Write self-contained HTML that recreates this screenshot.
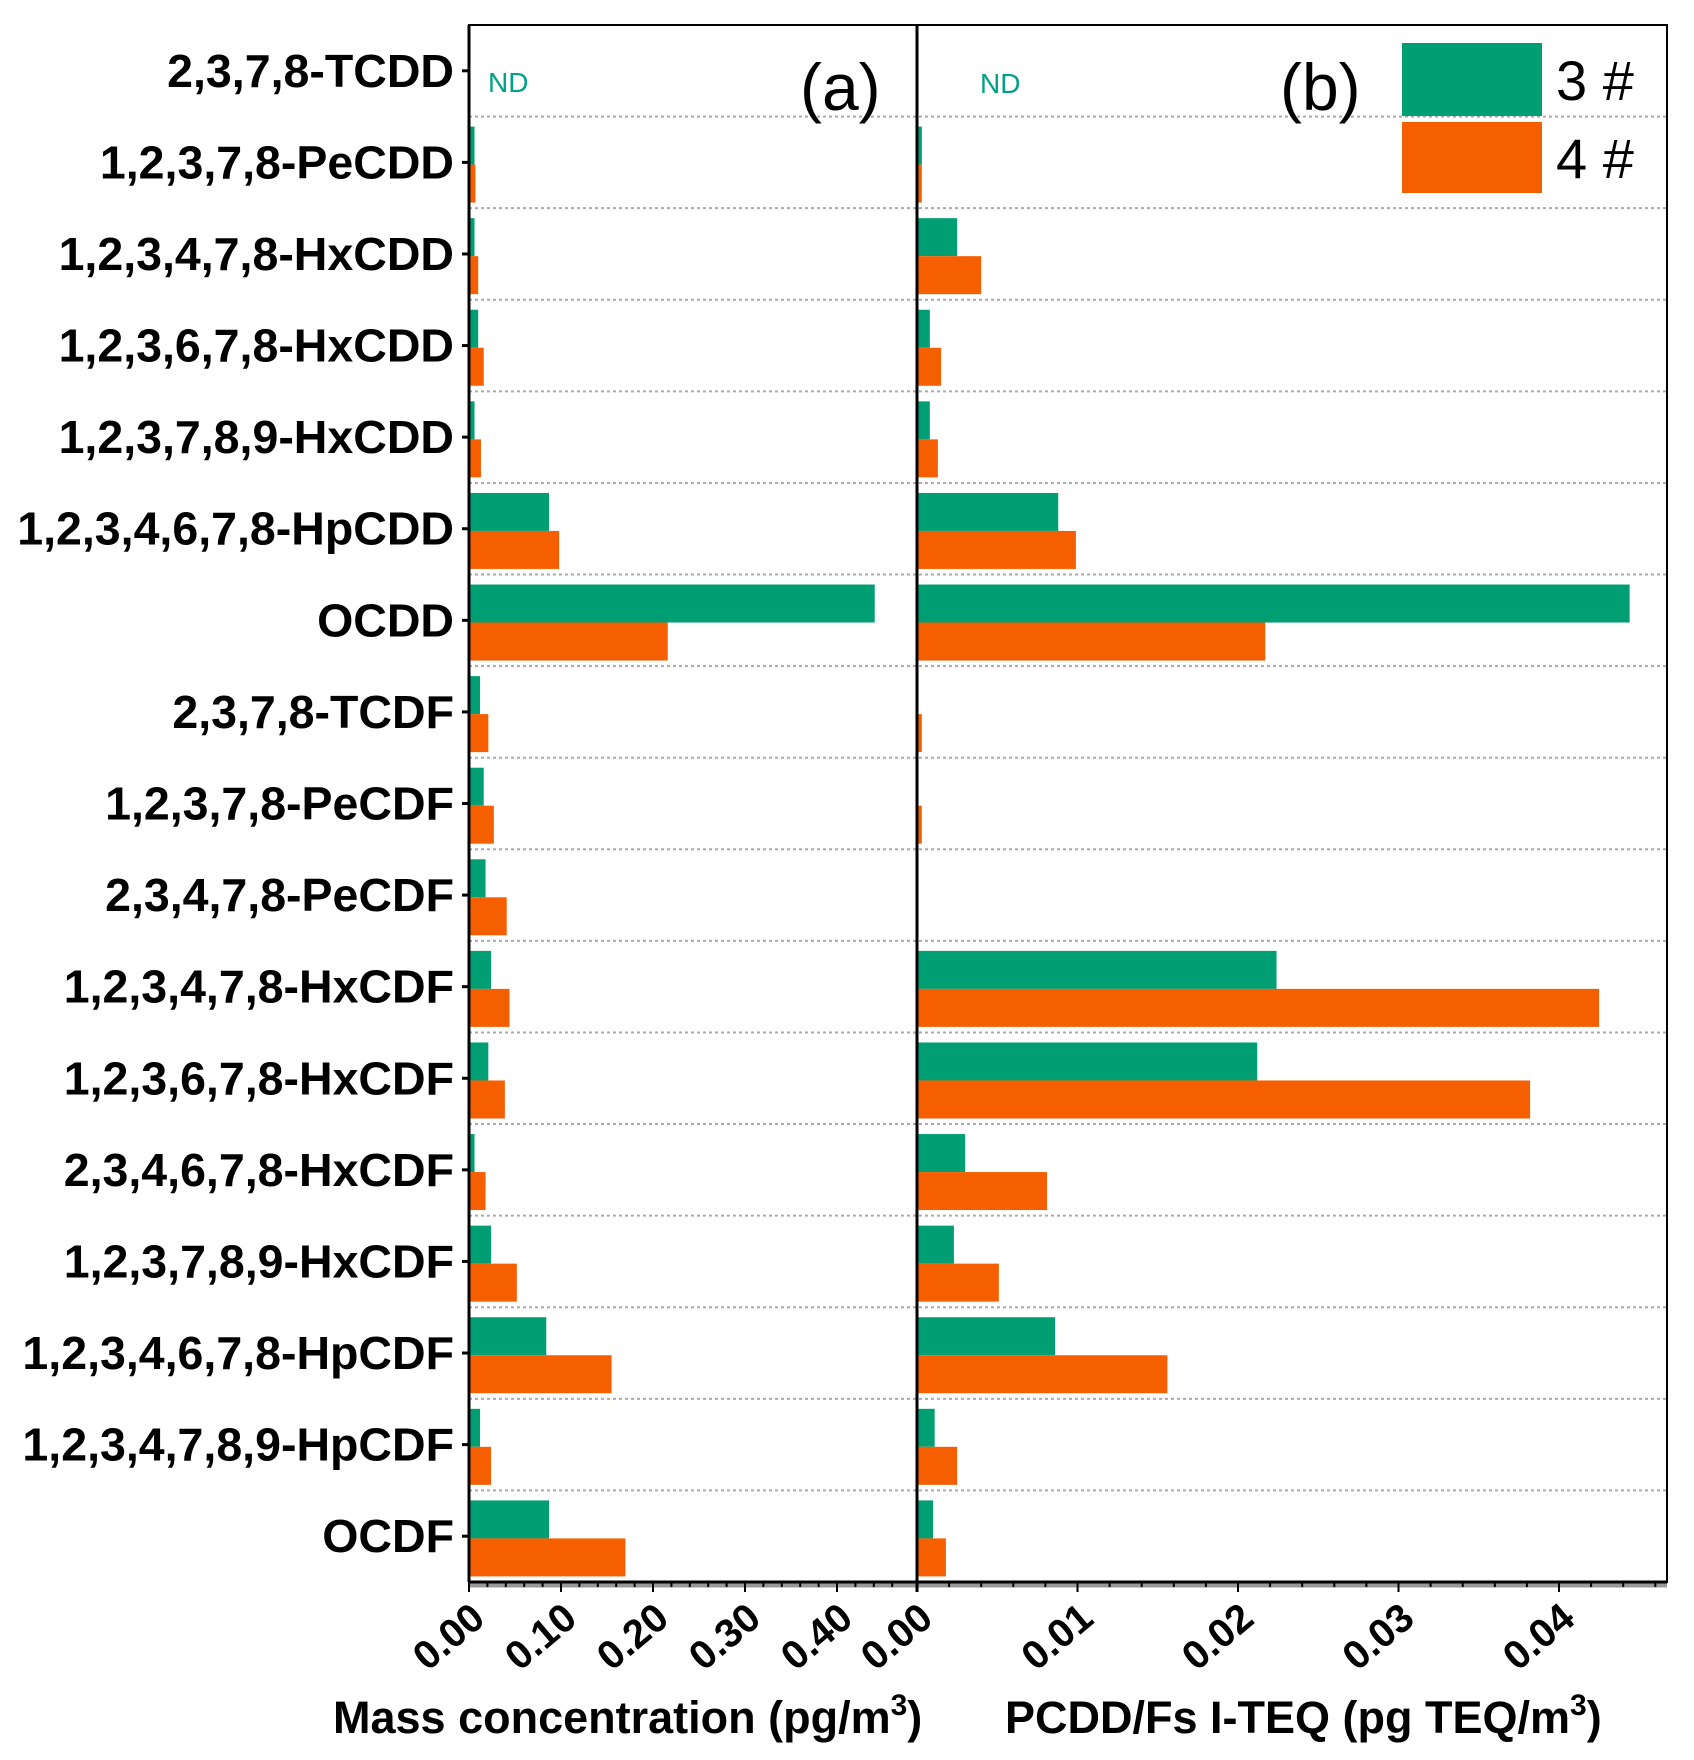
<!DOCTYPE html>
<html><head><meta charset="utf-8"><style>
html,body{margin:0;padding:0;background:#fff;}
svg{display:block;font-family:"Liberation Sans",Arial,sans-serif;}
</style></head><body>
<svg id="chart" width="1694" height="1760" viewBox="0 0 1694 1760" xmlns="http://www.w3.org/2000/svg"></svg>
<script>
const categories = ["2,3,7,8-TCDD","1,2,3,7,8-PeCDD","1,2,3,4,7,8-HxCDD","1,2,3,6,7,8-HxCDD","1,2,3,7,8,9-HxCDD","1,2,3,4,6,7,8-HpCDD","OCDD","2,3,7,8-TCDF","1,2,3,7,8-PeCDF","2,3,4,7,8-PeCDF","1,2,3,4,7,8-HxCDF","1,2,3,6,7,8-HxCDF","2,3,4,6,7,8-HxCDF","1,2,3,7,8,9-HxCDF","1,2,3,4,6,7,8-HpCDF","1,2,3,4,7,8,9-HpCDF","OCDF"];
const massS3 = [0,0.006,0.006,0.010,0.006,0.087,0.441,0.012,0.016,0.018,0.024,0.021,0.006,0.024,0.084,0.012,0.087];
const massS4 = [0,0.007,0.010,0.016,0.013,0.098,0.216,0.021,0.027,0.041,0.044,0.039,0.018,0.052,0.155,0.024,0.170];
const teqS3 = [0,0.0003,0.0025,0.0008,0.0008,0.0088,0.0444,0,0,0,0.0224,0.0212,0.0030,0.0023,0.0086,0.0011,0.0010];
const teqS4 = [0,0.0003,0.0040,0.0015,0.0013,0.0099,0.0217,0.0003,0.0003,0,0.0425,0.0382,0.0081,0.0051,0.0156,0.0025,0.0018];
const massTicks = [0,0.1,0.2,0.3,0.4];
const massTickLabels = ["0.00","0.10","0.20","0.30","0.40"];
const teqTicks = [0,0.01,0.02,0.03,0.04];
const teqTickLabels = ["0.00","0.01","0.02","0.03","0.04"];

const NS="http://www.w3.org/2000/svg";
const svg=document.getElementById('chart');
const L=469, M=917, R=1667, T=25, B=1582;
const rowH=(B-T)/categories.length;
const xa=v=>L+v*920;
const xb=v=>M+v*16050;
const yRow=i=>T+i*rowH;
const G="#009e73", O="#f55f00";
function mk(tag,attrs,parent){const e=document.createElementNS(NS,tag);for(const k in attrs)e.setAttribute(k,attrs[k]);(parent||svg).appendChild(e);return e;}

for(let i=1;i<categories.length;i++){
  const g=mk('line',{x1:L,x2:R,y1:yRow(i),y2:yRow(i),stroke:"#aaa","stroke-width":2,"stroke-dasharray":"3 3"});
  
  
}
categories.forEach((c,i)=>{
  const y0=yRow(i)+10;
  const bh=38;
  const pairs=[[massS3[i],G,y0,xa,'mass-bar-3'],[massS4[i],O,y0+bh,xa,'mass-bar-4'],[teqS3[i],G,y0,xb,'teq-bar-3'],[teqS4[i],O,y0+bh,xb,'teq-bar-4']];
  pairs.forEach(p=>{
    if(p[0]<=0) return;
    const x0=p[3](0);
    const r=mk('rect',{x:x0,y:p[2],width:Math.max(p[3](p[0])-x0,2),height:bh,fill:p[1]});
    
    
  });
  const t=mk('text',{x:454,y:yRow(i)+rowH/2+16,"text-anchor":"end","font-size":46.5,"font-weight":"bold",fill:"#000"});
  t.textContent=c;
  
  
  mk('line',{x1:L-7,x2:L,y1:yRow(i)+rowH/2,y2:yRow(i)+rowH/2,stroke:"#000","stroke-width":3});
});
mk('line',{x1:L,x2:R,y1:B+3,y2:B+3,stroke:"#999","stroke-width":5});
mk('rect',{x:L,y:T,width:R-L,height:B-T,fill:"none",stroke:"#000","stroke-width":2});
mk('line',{x1:L,x2:L,y1:T,y2:B,stroke:"#000","stroke-width":3});
mk('line',{x1:M,x2:M,y1:T,y2:B+10,stroke:"#000","stroke-width":3});
mk('line',{x1:L,x2:R,y1:B,y2:B,stroke:"#000","stroke-width":3});
for(let v=0;v<=0.48;v+=0.02){const x=xa(v);if(x>M-3)break;mk('line',{x1:x,x2:x,y1:B,y2:B+(Math.abs(v*10-Math.round(v*10))<1e-6?10:5),stroke:"#000","stroke-width":2});}
for(let v=0;v<=0.0465;v+=0.002){const x=xb(v);if(x>R)break;mk('line',{x1:x,x2:x,y1:B,y2:B+(Math.abs(v*100-Math.round(v*100))<1e-6?10:5),stroke:"#000","stroke-width":2});}
function tickLab(x,s,name){const ax=x+18, ay=1622;const t=mk('text',{x:ax,y:ay,"text-anchor":"end","font-size":40,"font-weight":"bold",transform:`rotate(-40 ${ax} ${ay})`});t.textContent=s;}
massTicks.forEach((v,i)=>tickLab(xa(v),massTickLabels[i],'mass-tick-label'));
teqTicks.forEach((v,i)=>tickLab(xb(v),teqTickLabels[i],'teq-tick-label'));
</script>
<svg style="position:absolute;left:0;top:0" width="1694" height="1760">
<g font-family="Liberation Sans, Arial, sans-serif">
<text x="333" y="1733" font-size="45" font-weight="bold">Mass concentration (pg/m<tspan font-size="30" dy="-18">3</tspan><tspan dy="18">)</tspan></text>
<text x="1005" y="1733" font-size="45" font-weight="bold">PCDD/Fs I-TEQ (pg TEQ/m<tspan font-size="30" dy="-18">3</tspan><tspan dy="18">)</tspan></text>
<text x="800" y="110" font-size="66">(a)</text>
<text x="1280" y="110" font-size="66">(b)</text>
<text x="488" y="92" font-size="28" fill="#00a08a">ND</text>
<text x="980" y="93" font-size="28" fill="#00a08a">ND</text>
<rect x="1402" y="43" width="140" height="73" fill="#009e73"/>
<rect x="1402" y="122" width="140" height="71" fill="#f55f00"/>
<text x="1556" y="100" font-size="56">3 #</text>
<text x="1556" y="178" font-size="56">4 #</text>
</g></svg>
</body></html>
